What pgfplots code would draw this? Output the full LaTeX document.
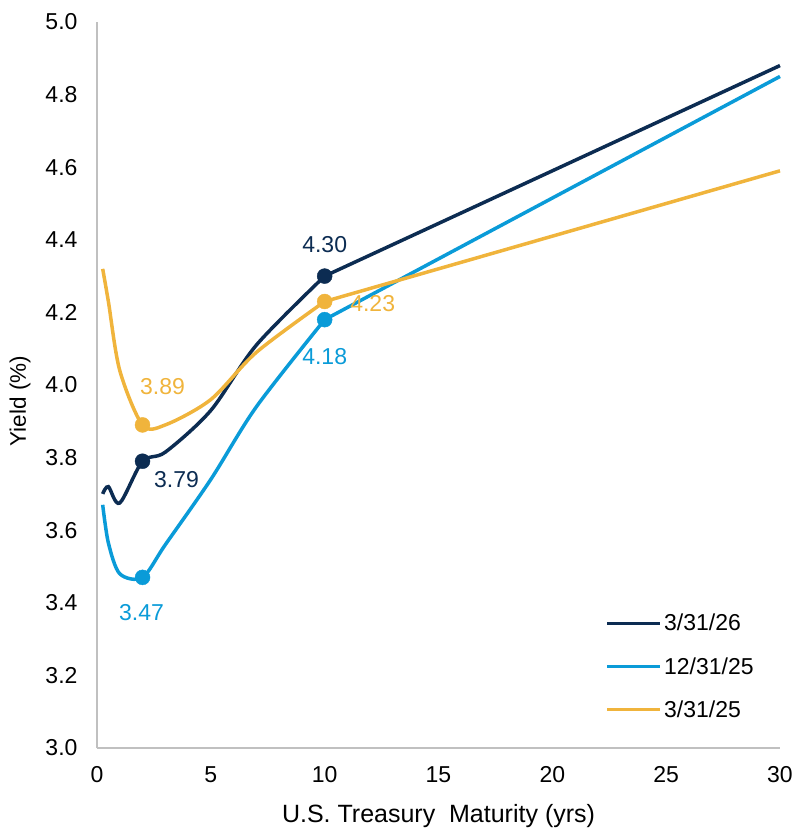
\documentclass[border=0pt]{standalone}
\usepackage{fontspec}
\setmainfont{Liberation Sans}
\usepackage{pgfplots}
\pgfplotsset{compat=1.18}
\definecolor{navy}{HTML}{0C2C52}
\definecolor{lblue}{HTML}{0A9BD8}
\definecolor{gold}{HTML}{F0B43C}
\definecolor{axgray}{HTML}{C0C0C0}
\newcommand{\tfont}{\fontsize{23}{27}\selectfont}
\newcommand{\lfont}{\fontsize{25}{30}\selectfont}
\newcommand{\yfont}{\fontsize{22.5}{27}\selectfont}
\pgfplotstableread{
x y
0.25 3.70
0.5 3.72
1 3.675
2 3.79
3 3.815
5 3.93
7 4.11
10 4.30
}\navydata
\pgfplotstableread{
x y
10 4.30
30 4.88
}\navylong
\pgfplotstableread{
x y
0.25 3.67
0.5 3.565
1 3.48
2 3.47
3 3.56
5 3.74
7 3.94
10 4.18
}\bluedata
\pgfplotstableread{
x y
10 4.18
30 4.85
}\bluelong
\pgfplotstableread{
x y
0.25 4.32
0.5 4.23
1 4.04
2 3.89
3 3.89
5 3.96
7 4.09
10 4.23
}\golddata
\pgfplotstableread{
x y
10 4.23
30 4.59
}\goldlong
\begin{document}
\begin{tikzpicture}
\useasboundingbox (-97pt,-83pt) rectangle (699pt,748pt);
\begin{axis}[
  scale only axis,
  width=683pt, height=726pt,
  xmin=0, xmax=30, ymin=3.0, ymax=5.0,
  xtick={0,5,...,30},
  ytick={3.0,3.2,...,5.01},
  axis x line*=bottom, axis y line*=left,
  axis line style={draw=axgray, line width=1.6pt},
  major tick length=0pt,
  /pgf/number format/assume math mode=true,
  ticklabel style={font=\tfont, text=black},
  yticklabel style={/pgf/number format/fixed, /pgf/number format/fixed zerofill, /pgf/number format/precision=1, xshift=-16pt},
  xticklabel style={yshift=-15pt},
  xlabel={U.S. Treasury\ \ Maturity (yrs)},
  ylabel={Yield (\%)},
  xlabel style={font=\lfont, at={(axis description cs:0.5,-0.0937)}, anchor=center},
  ylabel style={font=\yfont, at={(axis description cs:-0.1127,0.478)}, anchor=center},
  legend style={draw=none, fill=none, font=\tfont, at={(axis description cs:0.74,0.19)}, anchor=north west, row sep=21pt},
  legend cell align=left,
  legend image code/.code={\draw[mark=none,#1] (0pt,0pt) -- (53pt,0pt);},
  clip=false,
]
\addplot[navy, line width=3.5pt, smooth, mark=none] table[x=x,y=y] {\navydata};
\addlegendentry{3/31/26}
\addplot[lblue, line width=3.5pt, smooth, mark=none] table[x=x,y=y] {\bluedata};
\addlegendentry{12/31/25}
\addplot[gold, line width=3.5pt, smooth, mark=none] table[x=x,y=y] {\golddata};
\addlegendentry{3/31/25}
\addplot[forget plot, navy, line width=3.5pt, mark=none] table[x=x,y=y] {\navylong};
\addplot[forget plot, lblue, line width=3.5pt, mark=none] table[x=x,y=y] {\bluelong};
\addplot[forget plot, gold, line width=3.5pt, mark=none] table[x=x,y=y] {\goldlong};

\addplot[forget plot, only marks, mark=*, mark size=7.5pt, color=gold, nodes near coords, point meta=explicit symbolic,
  nodes near coords style={font=\tfont, text=gold, anchor=center, xshift=20pt, yshift=38pt}]
  coordinates {(2,3.89) [3.89]};
\addplot[forget plot, only marks, mark=*, mark size=7.5pt, color=navy, nodes near coords, point meta=explicit symbolic,
  nodes near coords style={font=\tfont, text=navy, anchor=center, xshift=34pt, yshift=-18pt}]
  coordinates {(2,3.79) [3.79]};
\addplot[forget plot, only marks, mark=*, mark size=7.5pt, color=lblue, nodes near coords, point meta=explicit symbolic,
  nodes near coords style={font=\tfont, text=lblue, anchor=center, xshift=-1pt, yshift=-35pt}]
  coordinates {(2,3.47) [3.47]};
\addplot[forget plot, only marks, mark=*, mark size=7.5pt, color=navy, nodes near coords, point meta=explicit symbolic,
  nodes near coords style={font=\tfont, text=navy, anchor=center, xshift=0pt, yshift=32pt}]
  coordinates {(10,4.30) [4.30]};
\addplot[forget plot, only marks, mark=*, mark size=7.5pt, color=gold, nodes near coords, point meta=explicit symbolic,
  nodes near coords style={font=\tfont, text=gold, anchor=center, xshift=48pt, yshift=-2pt}]
  coordinates {(10,4.23) [4.23]};
\addplot[forget plot, only marks, mark=*, mark size=7.5pt, color=lblue, nodes near coords, point meta=explicit symbolic,
  nodes near coords style={font=\tfont, text=lblue, anchor=center, xshift=0pt, yshift=-37pt}]
  coordinates {(10,4.18) [4.18]};
\end{axis}
\end{tikzpicture}
\end{document}
